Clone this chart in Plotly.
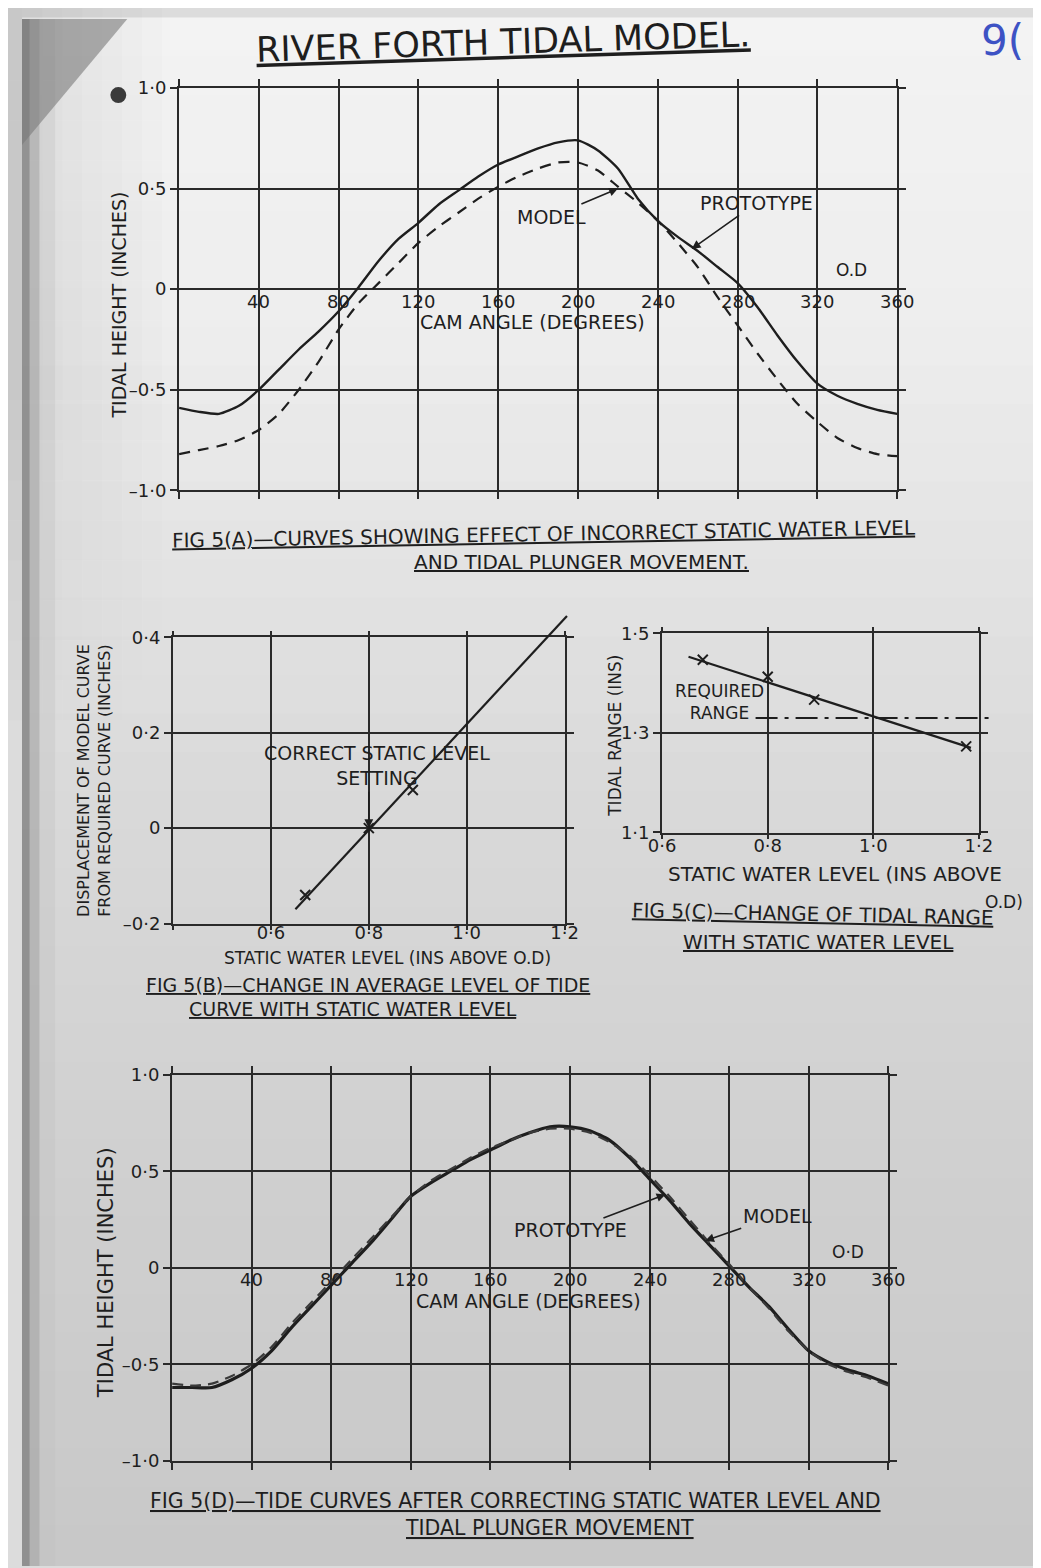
import plotly.graph_objects as go

W, H = 1041, 1568
FONT = "DejaVu Sans"
INK = "#1e1e1e"
GRID = "#2a2a2a"

# ---------------- data ----------------
cam_angle = list(range(0, 361, 10))

# Fig 5(A) - incorrect static water level
prototype_a = [-0.59, -0.61, -0.62, -0.58, -0.50, -0.40, -0.30, -0.21, -0.11, 0.01,
               0.14, 0.25, 0.33, 0.42, 0.49, 0.56, 0.62, 0.66, 0.70, 0.73,
               0.74, 0.69, 0.60, 0.45, 0.34, 0.26, 0.19, 0.11, 0.03, -0.09,
               -0.23, -0.36, -0.47, -0.53, -0.57, -0.60, -0.62]
model_a = [-0.82, -0.80, -0.78, -0.75, -0.70, -0.62, -0.50, -0.36, -0.20, -0.07,
           0.03, 0.13, 0.23, 0.31, 0.38, 0.45, 0.51, 0.56, 0.60, 0.63,
           0.63, 0.59, 0.51, 0.43, 0.34, 0.23, 0.11, -0.04, -0.18, -0.32,
           -0.45, -0.57, -0.66, -0.74, -0.79, -0.82, -0.83]

# Fig 5(D) - after correction
prototype_d = [-0.62, -0.62, -0.62, -0.58, -0.52, -0.43, -0.31, -0.20, -0.09, 0.02,
               0.13, 0.25, 0.37, 0.44, 0.50, 0.56, 0.61, 0.66, 0.70, 0.73,
               0.73, 0.71, 0.66, 0.57, 0.46, 0.35, 0.23, 0.12, 0.01, -0.10,
               -0.20, -0.32, -0.43, -0.49, -0.53, -0.56, -0.60]
model_d = [-0.60, -0.61, -0.60, -0.56, -0.50, -0.41, -0.29, -0.18, -0.07, 0.04,
           0.15, 0.26, 0.37, 0.45, 0.51, 0.57, 0.62, 0.66, 0.70, 0.72,
           0.72, 0.70, 0.65, 0.58, 0.48, 0.37, 0.25, 0.13, 0.02, -0.10,
           -0.21, -0.33, -0.43, -0.50, -0.54, -0.57, -0.61]

cam_ticks = [0, 40, 80, 120, 160, 200, 240, 280, 320, 360]
height_ticks = [-1.0, -0.5, 0.0, 0.5, 1.0]
height_tick_text = ["–1·0", "–0·5", "0", "0·5", "1·0"]

# Fig 5(B)
static_level_b = [0.67, 0.80, 0.89, 1.18]
displacement_b = [-0.14, 0.00, 0.08, 0.42]
fit_level_b = [0.65, 1.205]
fit_disp_b = [-0.17, 0.445]
level_ticks_b = [0.4, 0.6, 0.8, 1.0, 1.2]
level_tick_text_b = ["", "0·6", "0·8", "1·0", "1·2"]
disp_ticks = [-0.2, 0.0, 0.2, 0.4]
disp_tick_text = ["–0·2", "0", "0·2", "0·4"]

# Fig 5(C)
static_level_c = [0.677, 0.80, 0.888, 1.176]
tidal_range_c = [1.447, 1.413, 1.367, 1.273]
fit_level_c = [0.65, 1.185]
fit_range_c = [1.453, 1.270]
required_level_span = [0.777, 1.227]
required_range = [1.33, 1.33]
level_ticks_c = [0.6, 0.8, 1.0, 1.2]
level_tick_text_c = ["0·6", "0·8", "1·0", "1·2"]
range_ticks = [1.1, 1.3, 1.5]
range_tick_text = ["1·1", "1·3", "1·5"]

# ---------------- layout helpers ----------------
# screen -> figure pixel compensation (page offset / scale observed in the viewer)
SCX, OFX = 0.977, 19.3
SCY, OFY = 0.986, 19.0


def fx(X):
    return (X - OFX) / SCX


def fy(Y):
    return (Y - OFY) / SCY


def px(X):
    return fx(X) / W


def py(Y):
    return 1 - fy(Y) / H


# panel boxes in screen pixels (left, top, right, bottom)
BOX_A = (177, 88, 898, 490)
BOX_B = (171, 637, 564, 923)
BOX_C = (662, 633, 980, 832)
BOX_D = (170, 1074, 889, 1460)

RANGE_A = ([0, 360], [-1, 1])
RANGE_B = ([0.4, 1.2], [-0.2, 0.4])
RANGE_C = ([0.6, 1.2], [1.1, 1.5])
RANGE_D = ([0, 360], [-1, 1])


def dom(box):
    l, t, r, b = box
    return [px(l), px(r)], [py(b), py(t)]


def ext(box, xr, yr, pad):
    l, t, r, b = box
    sx = (xr[1] - xr[0]) / (r - l)
    sy = (yr[1] - yr[0]) / (b - t)
    nb = (l - pad, t - pad, r + pad, b + pad)
    return nb, [xr[0] - pad * sx, xr[1] + pad * sx], [yr[0] - pad * sy, yr[1] + pad * sy]


common = dict(showgrid=True, gridcolor=GRID, gridwidth=2, showline=True, linecolor=GRID,
              linewidth=2, mirror="ticks", ticks="outside", ticklen=7, tickwidth=2,
              tickcolor=GRID, zeroline=False, fixedrange=True,
              tickfont=dict(family=FONT, size=18, color=INK))

fig = go.Figure()

# Fig A curves
fig.add_trace(go.Scatter(x=cam_angle, y=prototype_a, mode="lines", xaxis="x", yaxis="y",
                         line=dict(color=INK, width=2.4, shape="spline", smoothing=0.6),
                         name="Prototype", showlegend=False))
fig.add_trace(go.Scatter(x=cam_angle, y=model_a, mode="lines", xaxis="x", yaxis="y",
                         line=dict(color=INK, width=2.2, dash="11px,8px", shape="spline", smoothing=0.6),
                         name="Model", showlegend=False))

# Fig D curves
fig.add_trace(go.Scatter(x=cam_angle, y=prototype_d, mode="lines", xaxis="x4", yaxis="y4",
                         line=dict(color=INK, width=3.2, shape="spline", smoothing=0.6),
                         name="Prototype", showlegend=False))
fig.add_trace(go.Scatter(x=cam_angle, y=model_d, mode="lines", xaxis="x4", yaxis="y4",
                         line=dict(color="#3a3a3a", width=2.2, dash="11px,7px", shape="spline", smoothing=0.6),
                         name="Model", showlegend=False))

# Fig B: markers on main axes, fit line on extended overlay axes (so it can run past the frame)
fig.add_trace(go.Scatter(x=static_level_b, y=displacement_b, mode="markers", xaxis="x2", yaxis="y2",
                         cliponaxis=False,
                         marker=dict(symbol="x-thin", size=10, line=dict(width=2, color=INK)),
                         showlegend=False))
fig.add_trace(go.Scatter(x=fit_level_b, y=fit_disp_b, mode="lines", xaxis="x5", yaxis="y5",
                         line=dict(color=INK, width=2.2), showlegend=False))

# Fig C
fig.add_trace(go.Scatter(x=static_level_c, y=tidal_range_c, mode="markers", xaxis="x3", yaxis="y3",
                         cliponaxis=False,
                         marker=dict(symbol="x-thin", size=10, line=dict(width=2, color=INK)),
                         showlegend=False))
fig.add_trace(go.Scatter(x=fit_level_c, y=fit_range_c, mode="lines", xaxis="x6", yaxis="y6",
                         line=dict(color=INK, width=2.2), showlegend=False))
fig.add_trace(go.Scatter(x=required_level_span, y=required_range, mode="lines", xaxis="x6", yaxis="y6",
                         line=dict(color=INK, width=2, dash="22px,7px,4px,7px"), showlegend=False))

xa, ya = dom(BOX_A)
xb, yb = dom(BOX_B)
xc, yc = dom(BOX_C)
xd, yd = dom(BOX_D)
bb, bxr, byr = ext(BOX_B, *RANGE_B, 40)
cb, cxr, cyr = ext(BOX_C, *RANGE_C, 40)
xbe, ybe = dom(bb)
xce, yce = dom(cb)

common_bx = dict(common, ticklen=4, ticklabelstandoff=-12)
common_cx = dict(common, ticklen=4, ticklabelstandoff=-8)

layout = dict(
    width=W, height=H, margin=dict(l=0, r=0, t=0, b=0),
    paper_bgcolor="#dcdcdc", plot_bgcolor="rgba(0,0,0,0)", showlegend=False,
    xaxis=dict(domain=xa, range=RANGE_A[0], anchor="y", tickvals=cam_ticks, showticklabels=False, **common),
    yaxis=dict(domain=ya, range=RANGE_A[1], anchor="x", tickvals=height_ticks, ticktext=height_tick_text, **common),
    xaxis2=dict(domain=xb, range=RANGE_B[0], anchor="y2", tickvals=level_ticks_b, ticktext=level_tick_text_b, **common_bx),
    yaxis2=dict(domain=yb, range=RANGE_B[1], anchor="x2", tickvals=disp_ticks, ticktext=disp_tick_text, **common),
    xaxis3=dict(domain=xc, range=RANGE_C[0], anchor="y3", tickvals=level_ticks_c, ticktext=level_tick_text_c, **common_cx),
    yaxis3=dict(domain=yc, range=RANGE_C[1], anchor="x3", tickvals=range_ticks, ticktext=range_tick_text, **common),
    xaxis4=dict(domain=xd, range=RANGE_D[0], anchor="y4", tickvals=cam_ticks, showticklabels=False, **common),
    yaxis4=dict(domain=yd, range=RANGE_D[1], anchor="x4", tickvals=height_ticks, ticktext=height_tick_text, **common),
    xaxis5=dict(domain=xbe, range=bxr, anchor="y5", visible=False, fixedrange=True),
    yaxis5=dict(domain=ybe, range=byr, anchor="x5", visible=False, fixedrange=True),
    xaxis6=dict(domain=xce, range=cxr, anchor="y6", visible=False, fixedrange=True),
    yaxis6=dict(domain=yce, range=cyr, anchor="x6", visible=False, fixedrange=True),
)
fig.update_layout(**layout)

# ---------------- background (scanned paper) ----------------
shapes = []
stops = [(0, 243), (300, 238), (560, 227), (800, 217), (1100, 209), (1568, 200)]


def gray_at(y):
    for (y0, g0), (y1, g1) in zip(stops[:-1], stops[1:]):
        if y0 <= y <= y1:
            return g0 + (g1 - g0) * (y - y0) / (y1 - y0)
    return stops[-1][1]


NB = 40
for i in range(NB):
    y0 = i * H / NB
    y1 = (i + 1) * H / NB
    g = int(round(gray_at((y0 + y1) / 2)))
    shapes.append(dict(type="rect", xref="paper", yref="paper", x0=0, x1=1,
                       y0=1 - y1 / H, y1=1 - y0 / H + 0.001, line=dict(width=0),
                       fillcolor=f"rgb({g},{g},{g})", layer="below"))
# soft scan shadow on the upper-left part of the page, fading right and downwards
for i in range(8):
    for j in range(19):
        yc0, yc1 = 40 * j, 40 * (j + 1)
        fade = 1.0 if yc1 <= 400 else max(0.0, 1 - (yc1 - 400) / 360)
        op = 0.09 * (1 - i / 8) * fade
        if op <= 0.003:
            continue
        shapes.append(dict(type="rect", xref="paper", yref="paper", x0=px(20 * i), x1=px(20 * (i + 1)),
                           y0=py(yc1), y1=py(yc0), line=dict(width=0), fillcolor="#000000",
                           opacity=op, layer="below"))
# left edge shadow
for x0, x1, c, op in [(0, 8, "#8a8a8a", 0.9), (8, 18, "#a8a8a8", 0.7), (18, 34, "#c0c0c0", 0.35)]:
    shapes.append(dict(type="rect", xref="paper", yref="paper", x0=x0 / W, x1=x1 / W, y0=0, y1=1,
                       line=dict(width=0), fillcolor=c, opacity=op, layer="below"))
shapes.append(dict(type="path", xref="paper", yref="paper",
                   path=f"M 0,1 L {px(125)},1 L 0,{py(145)} Z",
                   fillcolor="#7a7a7a", opacity=0.6, line=dict(width=0), layer="below"))
shapes.append(dict(type="circle", xref="paper", yref="paper", x0=px(108), x1=px(124),
                   y0=py(103), y1=py(87), fillcolor="#3a3a3a", line=dict(width=0), layer="below"))
fig.update_layout(shapes=shapes)

# ---------------- text ----------------
ann = []


def ptext(text, X, Y, size=18, angle=0, under=False, color=INK, family=FONT):
    f = dict(family=family, size=size, color=color)
    if under:
        f["lineposition"] = "under"
    ann.append(dict(text=text, x=px(X), y=py(Y), xref="paper", yref="paper", showarrow=False,
                    font=f, textangle=angle, xanchor="center", yanchor="middle"))


def dtext(text, x, y, xr, yr, yshift=0, size=18):
    ann.append(dict(text=text, x=x, y=y, xref=xr, yref=yr, showarrow=False, yshift=yshift,
                    xanchor="center", yanchor="middle", font=dict(family=FONT, size=size, color=INK)))


def arrow_text(text, x, y, xr, yr, ax, ay, size=19):
    ann.append(dict(text=text, x=x, y=y, xref=xr, yref=yr, showarrow=True, ax=ax, ay=ay,
                    arrowhead=2, arrowsize=1.1, arrowwidth=1.6, arrowcolor=INK, standoff=0,
                    font=dict(family=FONT, size=size, color=INK)))


# Title and page mark (kept inside the page)
ptext("RIVER FORTH TIDAL MODEL.", 502, 42, size=35, angle=-1.8, under=True)
ptext("9(", 1004, 40, size=42, color="#3d52c4")

# Fig A
ptext("TIDAL HEIGHT (INCHES)", 117, 305, size=19, angle=-90)
for t in cam_ticks[1:]:
    dtext(str(t), t, 0, "x", "y", yshift=-12, size=18)
dtext("CAM ANGLE (DEGREES)", 177, 0, "x", "y", yshift=-33, size=19)
dtext("O.D", 337, 0, "x", "y", yshift=19, size=17)
arrow_text("MODEL", 220, 0.5, "x", "y", -66, 28)
arrow_text("PROTOTYPE", 257, 0.2, "x", "y", 65, -46)
ptext("FIG 5(A)—CURVES SHOWING EFFECT OF INCORRECT STATIC WATER LEVEL", 543, 534, size=20, angle=-1, under=True)
ptext("AND TIDAL PLUNGER MOVEMENT.", 581, 562, size=20, under=True)

# Fig B
ptext("DISPLACEMENT OF MODEL CURVE<br>FROM REQUIRED CURVE (INCHES)", 92, 780, size=16, angle=-90)
ptext("STATIC WATER LEVEL (INS ABOVE O.D)", 386, 957, size=17)
ptext("CORRECT STATIC LEVEL<br>SETTING", 376, 765, size=19)
ann.append(dict(text="", x=0.8, y=0.0, xref="x2", yref="y2", showarrow=True, ax=0, ay=-38,
                arrowhead=2, arrowsize=1.1, arrowwidth=1.6, arrowcolor=INK, standoff=0))
ptext("FIG 5(B)—CHANGE IN AVERAGE LEVEL OF TIDE", 367, 984, size=19, under=True)
ptext("CURVE WITH STATIC WATER LEVEL", 352, 1008, size=19, under=True)

# Fig C
ptext("TIDAL RANGE (INS)", 615, 735, size=17, angle=-90)
ptext("STATIC WATER LEVEL (INS ABOVE", 836, 873, size=20)
ptext("O.D)", 1005, 901, size=17)
ptext("REQUIRED<br>RANGE", 720, 702, size=17)
ptext("FIG 5(C)—CHANGE OF TIDAL RANGE", 813, 913, size=20, angle=1.2, under=True)
ptext("WITH STATIC WATER LEVEL", 819, 941, size=20, under=True)

# Fig D
ptext("TIDAL HEIGHT (INCHES)", 103, 1272, size=21, angle=-90)
for t in cam_ticks[1:]:
    dtext(str(t), t, 0, "x4", "y4", yshift=-12, size=18)
dtext("CAM ANGLE (DEGREES)", 179, 0, "x4", "y4", yshift=-33, size=19)
dtext("O·D", 340, 0, "x4", "y4", yshift=16, size=17)
arrow_text("PROTOTYPE", 248, 0.38, "x4", "y4", -95, 36)
arrow_text("MODEL", 268, 0.14, "x4", "y4", 72, -25)
ptext("FIG 5(D)—TIDE CURVES AFTER CORRECTING STATIC WATER LEVEL AND", 515, 1500, size=20.5, under=True)
ptext("TIDAL PLUNGER MOVEMENT", 549, 1527, size=20.5, under=True)

fig.update_layout(annotations=ann)

fig.write_html("out.html")
